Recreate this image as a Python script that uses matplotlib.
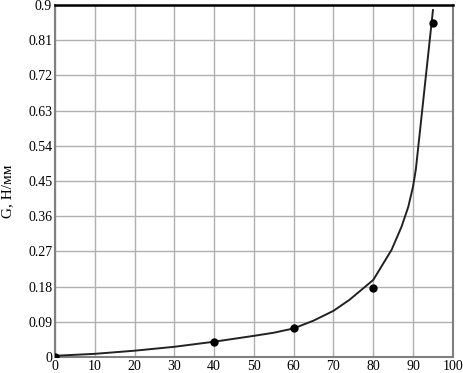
import matplotlib
matplotlib.use("Agg")
import matplotlib.pyplot as plt

# measured points
pts_x = [0, 40, 60, 80, 95]
pts_y = [0.0, 0.0375, 0.073, 0.176, 0.855]

# fitted curve
curve_x = [0, 10, 20, 30, 40, 50, 55, 60, 65, 70, 74, 80, 84.6, 87.1,
           88.8, 90, 90.7, 95]
curve_y = [0.003, 0.008, 0.016, 0.026, 0.039, 0.054, 0.062, 0.073, 0.093,
           0.118, 0.146, 0.197, 0.274, 0.333, 0.384, 0.436, 0.48, 0.887]

xticks = list(range(0, 101, 10))
yticks = [0, 0.09, 0.18, 0.27, 0.36, 0.45, 0.54, 0.63, 0.72, 0.81, 0.9]
ytick_labels = ["0", "0.09", "0.18", "0.27", "0.36", "0.45", "0.54",
                "0.63", "0.72", "0.81", "0.9"]

plt.rcParams["font.family"] = ["Liberation Serif", "DejaVu Serif"]

fig = plt.figure(figsize=(4.64, 3.73), dpi=100)
ax = fig.add_axes([0.1185, 0.043, 0.8575, 0.9436])

ax.plot(curve_x, curve_y, color="#222222", lw=1.4, zorder=3)
ax.plot(pts_x, pts_y, "o", color="black", ms=5, zorder=4, clip_on=True)

ax.set_xlim(0, 100)
ax.set_ylim(0, 0.9)
ax.set_xticks(xticks)
ax.set_yticks(yticks)
ax.set_yticklabels(ytick_labels)
ax.tick_params(length=0, labelsize=10, pad=2)
ax.grid(True, color="#b0b0b0", lw=1.0)
ax.set_axisbelow(True)

for side in ["left", "bottom", "right"]:
    ax.spines[side].set_color("#808080")
    ax.spines[side].set_linewidth(1.5)
ax.spines["top"].set_color("black")
ax.spines["top"].set_linewidth(1.8)

ax.set_ylabel("G, Н/мм", fontsize=11, va="center")
ax.yaxis.set_label_coords(-0.118, 0.47)

fig.savefig("out.png", dpi=100)
plt.close(fig)
